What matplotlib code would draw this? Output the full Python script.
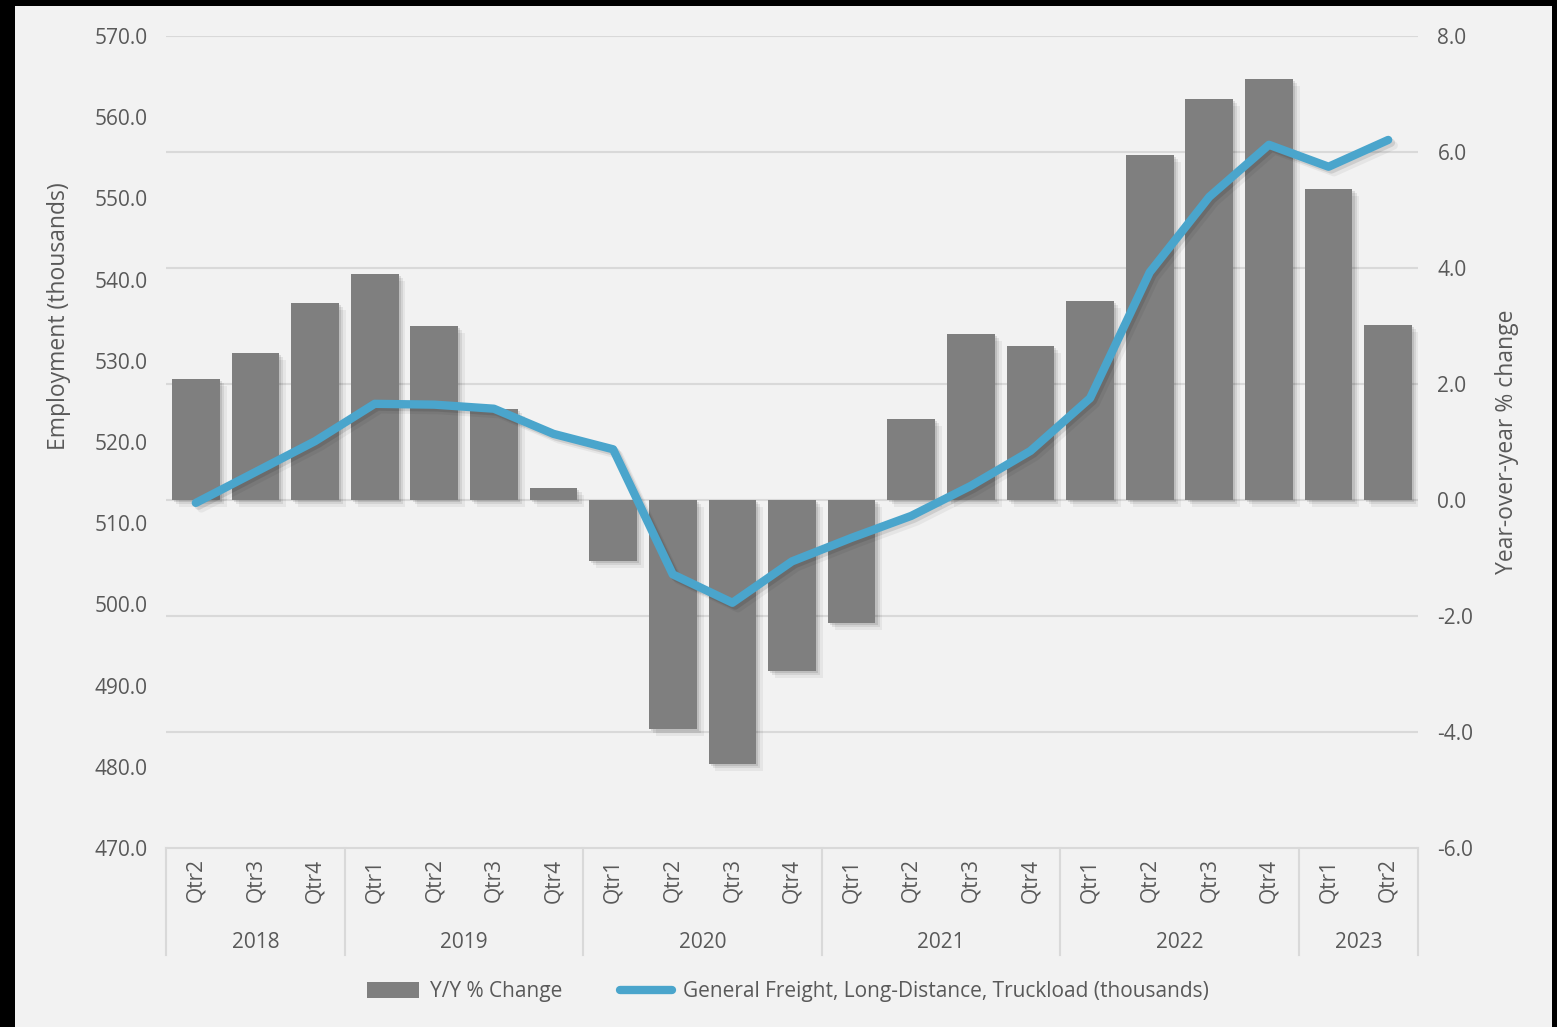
import matplotlib.pyplot as plt
import matplotlib.patheffects as pe
from matplotlib.patches import Rectangle, Patch
from matplotlib.lines import Line2D
import numpy as np

plt.rcParams['font.family'] = ['Open Sans', 'DejaVu Sans']

quarters = ['Qtr2', 'Qtr3', 'Qtr4',
            'Qtr1', 'Qtr2', 'Qtr3', 'Qtr4',
            'Qtr1', 'Qtr2', 'Qtr3', 'Qtr4',
            'Qtr1', 'Qtr2', 'Qtr3', 'Qtr4',
            'Qtr1', 'Qtr2', 'Qtr3', 'Qtr4',
            'Qtr1', 'Qtr2']
years = ['2018', '2019', '2020', '2021', '2022', '2023']
quarters_per_year = [3, 4, 4, 4, 4, 2]

yoy_change = [2.09, 2.53, 3.40, 3.90, 3.00, 1.57, 0.21,
              -1.05, -3.95, -4.55, -2.95,
              -2.12, 1.40, 2.86, 2.66,
              3.43, 5.95, 6.91, 7.26,
              5.36, 3.02]
employment = [512.5, 516.3, 520.1, 524.7, 524.6, 524.1, 521.0,
              519.1, 503.7, 500.2, 505.3,
              508.2, 510.9, 514.6, 518.9,
              525.4, 540.9, 550.2, 556.6,
              553.9, 557.2]

text_col = '#595959'
grid_col = '#d9d9d9'
bar_col = '#7f7f7f'
line_col = '#4aa5cc'
fs = 15

W, H = 1557, 1027
fig = plt.figure(figsize=(W / 100, H / 100), dpi=100)
fig.patch.set_facecolor('black')
fig.patches.append(Rectangle((15 / W, 0), (1552 - 15) / W, (H - 6) / H,
                             transform=fig.transFigure, facecolor='#f2f2f2',
                             edgecolor='none', zorder=0))

ax = fig.add_axes([166 / W, 1 - 848 / H, (1418 - 166) / W, (848 - 36) / H])
ax.set_facecolor('none')
ax2 = ax.twinx()
ax2.set_facecolor('none')

x = np.arange(len(quarters))

# soft-ish drop shadows
bar_fx = [pe.SimplePatchShadow(offset=(5, -5), shadow_rgbFace='black', alpha=0.05),
          pe.SimplePatchShadow(offset=(3, -3), shadow_rgbFace='black', alpha=0.08),
          pe.SimplePatchShadow(offset=(1.5, -1.5), shadow_rgbFace='black', alpha=0.1),
          pe.Normal()]
line_fx = [pe.SimpleLineShadow(offset=(4, -4), shadow_color='black', alpha=0.05),
           pe.SimpleLineShadow(offset=(2, -2), shadow_color='black', alpha=0.1),
           pe.Normal()]

# bars on the right axis, drawn first (behind the line)
ax.set_zorder(2)
ax2.set_zorder(1)
bars = ax2.bar(x, yoy_change, width=0.8, color=bar_col, zorder=2)
for b in bars:
    b.set_path_effects(bar_fx)
ax2.set_ylim(-6, 8)
ax2.set_yticks(np.arange(-6, 8.1, 2))
ax2.set_yticklabels([f'{v:.1f}' for v in np.arange(-6, 8.1, 2)])

ax.plot(x, employment, color=line_col, lw=6, solid_capstyle='round',
        solid_joinstyle='round', path_effects=line_fx)
ax.set_ylim(470, 570)
ax.set_yticks(np.arange(470, 571, 10))
ax.set_yticklabels([f'{v:.1f}' for v in np.arange(470, 571, 10)])
ax.set_xlim(-0.5, len(quarters) - 0.5)

# gridlines on the right axis (under bars)
for v in np.arange(-6, 8.1, 2):
    if v != -6:
        ax2.axhline(v, color=grid_col, lw=1.5, zorder=0)

for a in (ax, ax2):
    for s in a.spines.values():
        s.set_visible(False)
    a.tick_params(axis='y', length=0, labelsize=fs, labelcolor=text_col)
ax.tick_params(axis='y', pad=13)
ax2.tick_params(axis='y', pad=14)
ax.set_xticks([])
ax2.set_xticks([])

ax.set_ylabel('Employment (thousands)', fontsize=16.5, color=text_col)
ax.yaxis.set_label_coords(-0.076, 0.655)
ax2.set_ylabel('Year-over-year % change', fontsize=16.5, color=text_col)
ax2.yaxis.set_label_coords(1.0615, 0.5)

# multi-level category axis
trans = ax.get_xaxis_transform()
ax.plot([-0.5, len(quarters) - 0.5], [0, 0], transform=trans, color=grid_col, lw=1.5, clip_on=False)
for i, q in enumerate(quarters):
    ax.text(i, -0.04, q, transform=trans, rotation=90, ha='center', va='center',
            fontsize=fs, color=text_col)
start = 0
bounds = [-0.5]
for yr, n in zip(years, quarters_per_year):
    ax.text(start + (n - 1) / 2, -0.116, yr, transform=trans, ha='center', va='center',
            fontsize=fs, color=text_col)
    start += n
    bounds.append(start - 0.5)
for bx in bounds:
    ax.plot([bx, bx], [0, -0.132], transform=trans, color=grid_col, lw=1.5, clip_on=False)

handles = [Patch(facecolor=bar_col, edgecolor='none'),
           Line2D([0], [0], color=line_col, lw=6, solid_capstyle='round')]
fig.legend(handles, ['Y/Y % Change', 'General Freight, Long-Distance, Truckload (thousands)'],
           loc='center', bbox_to_anchor=(788 / W, 1 - 992 / H), ncol=2, frameon=False,
           fontsize=fs, labelcolor=text_col, handlelength=2.5, handleheight=0.8,
           columnspacing=2.8, handletextpad=0.5)

fig.savefig('out.png', dpi=100, facecolor=fig.get_facecolor())
